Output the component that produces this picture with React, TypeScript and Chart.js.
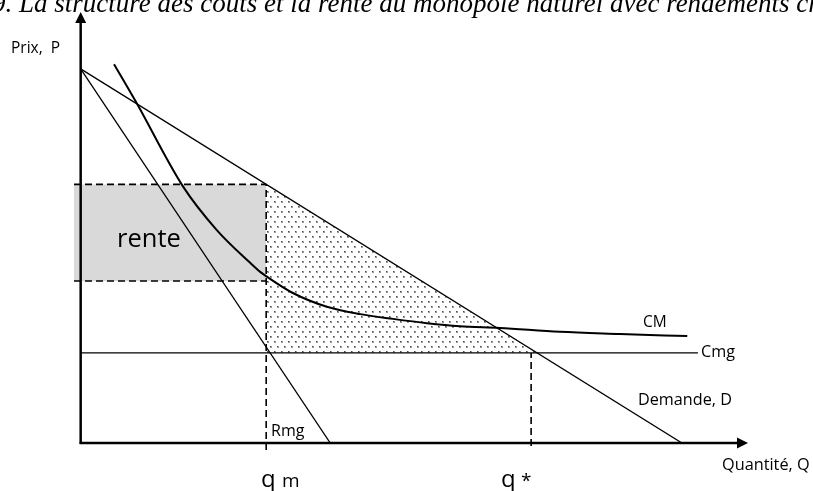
import { useEffect, useRef } from 'react';
import { Chart, registerables } from 'chart.js';

Chart.register(...registerables);

// ---- data (Q on x, P on y, both in 0..100 units) ----
const demandQ = [0, 90.1];
const demandP = [86.8, 0];
const rmgQ = [0, 37.4];
const rmgP = [86.8, 0];
const cmgQ = [0, 92.5];
const cmgP = [20.9, 20.9];
const cmQ = [5.0, 8.3, 15.3, 20.4, 25.4, 26.9, 27.8, 31.8, 36.9, 41.9, 46.8, 51.9, 56.8, 62.8, 71.8, 80.8, 90.9];
const cmP = [87.9, 79.1, 59.6, 49.4, 41.8, 39.7, 38.7, 34.8, 31.6, 29.9, 28.8, 27.8, 27.1, 26.7, 25.8, 25.3, 24.8];
const qm = 27.8;
const qStar = 67.5;
const qCross = 68.3;
const rentTop = 60.0;
const rentBottom = 37.6;
const cmgLevel = 20.9;
const rentLeft = -1;

const pts = (qs: number[], ps: number[]) => qs.map((q, i) => ({ x: q, y: ps[i] }));

const FONT = '"Open Sans", "DejaVu Sans", sans-serif';

const overlay = {
  id: 'overlay',
  afterDatasetsDraw(chart: any) {
    const { ctx, scales } = chart;
    const x = scales.x;
    const y = scales.y;
    const x0 = x.getPixelForValue(0);
    const y0 = y.getPixelForValue(0);
    const xTip = x.getPixelForValue(100);
    const yTip = y.getPixelForValue(100);
    ctx.save();
    ctx.strokeStyle = '#000';
    ctx.fillStyle = '#000';
    ctx.lineWidth = 2.5;
    ctx.beginPath();
    ctx.moveTo(x0, y0 + 1);
    ctx.lineTo(x0, yTip + 10);
    ctx.stroke();
    ctx.beginPath();
    ctx.moveTo(x0 - 1, y0);
    ctx.lineTo(xTip - 10, y0);
    ctx.stroke();
    ctx.beginPath();
    ctx.moveTo(x0, yTip);
    ctx.lineTo(x0 - 5.5, yTip + 11);
    ctx.lineTo(x0 + 5.5, yTip + 11);
    ctx.closePath();
    ctx.fill();
    ctx.beginPath();
    ctx.moveTo(xTip, y0);
    ctx.lineTo(xTip - 11, y0 - 5.5);
    ctx.lineTo(xTip - 11, y0 + 5.5);
    ctx.closePath();
    ctx.fill();

    ctx.textBaseline = 'alphabetic';
    ctx.textAlign = 'left';
    ctx.fillStyle = '#000';
    // title (clipped at top)
    ctx.font = 'italic 27px "Liberation Serif", serif';
    ctx.fillText('9. La structure des coûts et la rente du monopole naturel avec rendements croissants', -8, 12);

    const label = (t: string, px: number, py: number, size: number) => {
      ctx.font = `${size}px ${FONT}`;
      ctx.fillText(t, px, py);
    };
    label('Prix,  P', 11, 53, 15.5);
    label('rente', 117, 247, 25.5);
    label('CM', 643, 327, 15.5);
    label('Cmg', 701, 357, 16.2);
    label('Demande, D', 638, 405, 16.2);
    label('Rmg', 271, 436, 16);
    label('Quantité, Q', 722, 470, 16.3);
    label('q', 261, 487, 24);
    label('m', 282, 487, 19);
    label('q', 501, 487, 24);
    label('*', 521, 487, 19);
    ctx.restore();
  },
};

export default function App() {
  const ref = useRef<HTMLCanvasElement | null>(null);
  useEffect(() => {
    document.body.style.margin = '0';
    const canvas = ref.current!;
    const pc = document.createElement('canvas');
    pc.width = 7;
    pc.height = 10;
    const pctx = pc.getContext('2d')!;
    pctx.fillStyle = '#ffffff';
    pctx.fillRect(0, 0, 7, 10);
    pctx.fillStyle = '#999999';
    pctx.fillRect(1, 1, 2, 2);
    pctx.fillRect(4, 6, 2, 2);
    pctx.fillStyle = '#4a4a4a';
    pctx.fillRect(1, 1, 1, 1);
    pctx.fillRect(4, 6, 1, 1);
    const pattern = canvas.getContext('2d')!.createPattern(pc, 'repeat');

    const line = (data: any[], extra: any = {}) => ({
      data,
      borderColor: '#000',
      borderWidth: 1.3,
      pointRadius: 0,
      tension: 0,
      fill: false,
      ...extra,
    });

    const chart = new Chart(canvas, {
      type: 'line',
      data: {
        datasets: [
          line(pts(cmQ, cmP), { borderWidth: 2, cubicInterpolationMode: 'monotone', order: 1 }),
          line(pts(demandQ, demandP), { order: 2 }),
          line(pts(rmgQ, rmgP), { order: 2 }),
          line(pts(cmgQ, cmgP), { order: 2 }),
          line([{ x: qm, y: -1.6 }, { x: qm, y: rentTop }], { borderDash: [7, 4], borderWidth: 1.6, clip: false, order: 3 }),
          line([{ x: qStar, y: -0.7 }, { x: qStar, y: cmgLevel }], { borderDash: [7, 4], borderWidth: 1.6, clip: false, order: 3 }),
          line([{ x: rentLeft, y: rentBottom }, { x: qm, y: rentBottom }], { borderDash: [7, 4], borderWidth: 1.6, clip: false, order: 3 }),
          line([{ x: rentLeft, y: rentTop }, { x: qm, y: rentTop }], {
            borderDash: [7, 4],
            borderWidth: 1.6,
            fill: { value: rentBottom },
            backgroundColor: '#d9d9d9',
            order: 5,
          }),
          line([{ x: qm, y: rentTop }, { x: qCross, y: cmgLevel }], {
            borderColor: 'rgba(0,0,0,0)',
            borderWidth: 0,
            fill: { value: cmgLevel },
            backgroundColor: pattern,
            order: 6,
          }),
        ],
      },
      options: {
        responsive: false,
        animation: false,
        events: [],
        layout: { padding: { left: 74, right: 65, top: 12, bottom: 48 } },
        scales: {
          x: { type: 'linear', min: -1, max: 100, display: false },
          y: { type: 'linear', min: 0, max: 100, display: false },
        },
        plugins: { legend: { display: false }, tooltip: { enabled: false }, title: { display: false } },
      },
      plugins: [overlay],
    } as any);
    return () => chart.destroy();
  }, []);
  return (
    <div style={{ position: 'absolute', left: 0, top: 0, width: 813, height: 491, background: '#fff' }}>
      <canvas ref={ref} width={813} height={491} style={{ display: 'block' }} />
    </div>
  );
}
